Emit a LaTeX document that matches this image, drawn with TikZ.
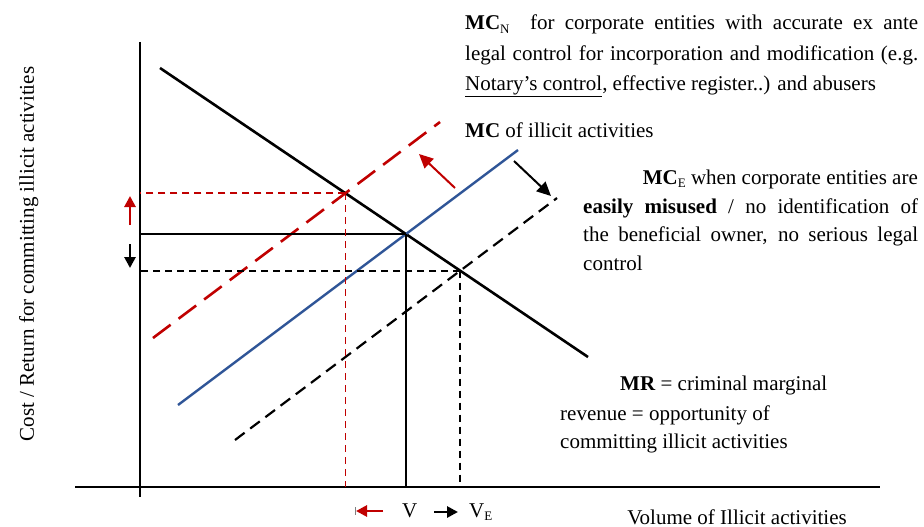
\documentclass[tikz,border=0pt]{standalone}
\usepackage{fontspec}
\setmainfont{Liberation Serif}
\usetikzlibrary{intersections,arrows.meta}
\definecolor{cred}{RGB}{192,0,0}
\definecolor{cblue}{RGB}{47,85,151}
\tikzset{
  axis/.style={line width=1.8pt},
  mrline/.style={line width=2.6pt},
  mcline/.style={line width=2.4pt,cblue},
  ncline/.style={line width=2.6pt,cred,dash pattern=on 22pt off 10pt},
  ecline/.style={line width=2.2pt,dash pattern=on 12pt off 7pt},
  guide/.style={line width=1.6pt},
  redguide/.style={line width=1.8pt,draw=cred,dash pattern=on 7pt off 5pt},
  blkguide/.style={line width=1.8pt,dash pattern=on 7pt off 5pt},
  shiftarrow/.style={line width=2pt,-{Triangle[length=14pt,width=13pt]}},
  smallarrow/.style={line width=2.8pt,-{Triangle[length=11pt,width=11pt]}},
  txt/.style={anchor=base west,inner sep=0pt,font=\fontsize{21}{24}\selectfont},
}
\newcommand{\subsc}[1]{\raisebox{-0.35ex}{\fontsize{13}{14}\selectfont #1}}
\begin{document}
\begin{tikzpicture}[x=1pt,y=-1pt]
\useasboundingbox (0,0) rectangle (924,527);
% axes
\draw[axis] (140,42) coordinate (ytop) -- (140,497) coordinate (ybot);
\draw[axis] (75,487) coordinate (xl) -- (880,487) coordinate (xr);
% curves
\draw[mrline,name path=mr] (160,68) coordinate (mr1) -- (588,357) coordinate (mr2);
\draw[mcline,name path=mc] (178,405) coordinate (mc1) -- (518,150) coordinate (mc2);
\draw[ncline,name path=nc] (153,338) coordinate (nc1) -- (440,122) coordinate (nc2);
\draw[ecline,name path=ec] (235,440) coordinate (ec1) -- (557,198) coordinate (ec2);
% intersections
\path[name intersections={of=mr and mc,by=P}];
\path[name intersections={of=mr and nc,by=PN}];
\path[name intersections={of=mr and ec,by=PE}];
\draw[guide] (P) -- (P -| ytop);
\draw[guide] (P) -- (P |- xl);
\draw[redguide] (PN) -- (PN -| ytop);
\draw[redguide] (PN) -- (PN |- xl);
\draw[blkguide] (PE) -- (PE -| ytop);
\draw[blkguide] (PE) -- (PE |- xl);
% shift arrows
\draw[shiftarrow,cred] (455,188) coordinate (ra1) -- (419,154) coordinate (ra2);
\draw[shiftarrow] (514,161) coordinate (ba1) -- (551,196) coordinate (ba2);
\draw[smallarrow,cred] (130,225) coordinate (ua1) -- (130,196) coordinate (ua2);
\draw[smallarrow] (130,244) coordinate (da1) -- (130,268) coordinate (da2);
\draw[smallarrow,cred] (383,511) coordinate (la1) -- (356,511) coordinate (la2);
\draw[line width=0.4pt,gray] (355,507) -- (355,515);
\draw[smallarrow] (434,512) coordinate (sa1) -- (458,512) coordinate (sa2);
% labels
\node[txt] (v) at (402,517) {V};
\node[txt] (ve) at (469,517) {V\subsc{E}};
\node[txt,anchor=base] (xlab) at (737,524) {Volume of Illicit activities};
\node[txt,anchor=base,rotate=90] (ylab) at (34,254) {Cost / Return for committing illicit activities};
% MC_N text
\node[txt] (n1) at (465,30) {\makebox[453pt][s]{\textbf{MC}\subsc{N} \ for corporate entities with accurate ex ante}};
\node[txt] (n2) at (465,61) {\makebox[453pt][s]{legal control for incorporation and modification (e.g.}};
\node[txt] (n3) at (465,90) {\underline{Notary’s control}, effective register..) and abusers};
\node[txt] (mct) at (465,137) {\textbf{MC} of illicit activities};
% MC_E text
\node[txt,anchor=base east] (e1) at (918,184) {\textbf{MC}\subsc{E} when corporate entities are};
\node[txt] (e2) at (583,213) {\makebox[335pt][s]{\textbf{easily misused} / no identification of}};
\node[txt] (e3) at (583,241) {\makebox[335pt][s]{the beneficial owner, no serious legal}};
\node[txt] (e4) at (583,270) {control};
% MR text
\node[txt] (r1) at (620,390) {\textbf{MR} = criminal marginal};
\node[txt] (r2) at (560,420) {revenue = opportunity of};
\node[txt] (r3) at (560,448) {committing illicit activities};
\end{tikzpicture}
\end{document}
